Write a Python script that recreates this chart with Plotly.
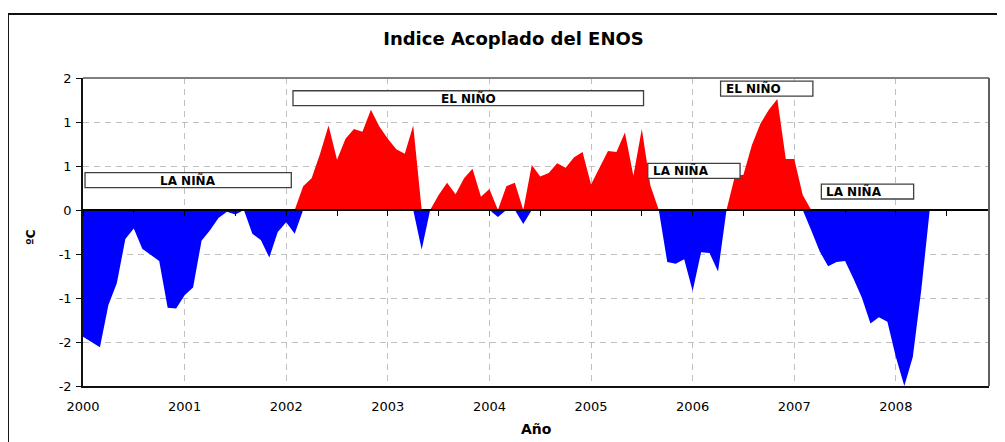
import plotly.graph_objects as go

# ---------------- data (monthly, Jan 2000 onwards) ----------------
enos_index = [
    -1.44, -1.50, -1.56, -1.08, -0.83, -0.33, -0.21, -0.44, -0.51, -0.58, -1.11, -1.12,   # 2000
    -0.97, -0.88, -0.35, -0.23, -0.09, -0.02, -0.05, 0.00, -0.27, -0.34, -0.54, -0.25,    # 2001
    -0.14, -0.27, 0.27, 0.36, 0.64, 0.96, 0.57, 0.81, 0.92, 0.89, 1.14, 0.95,             # 2002
    0.81, 0.69, 0.64, 0.96, -0.45, 0.00, 0.17, 0.31, 0.18, 0.36, 0.47, 0.15,              # 2003
    0.24, -0.08, 0.27, 0.31, -0.16, 0.51, 0.38, 0.42, 0.53, 0.48, 0.60, 0.66,             # 2004
    0.29, 0.48, 0.67, 0.66, 0.88, 0.39, 0.92, 0.28, 0.00, -0.59, -0.61, -0.56,            # 2005
    -0.92, -0.48, -0.49, -0.70, 0.00, 0.39, 0.40, 0.74, 0.98, 1.14, 1.26, 0.58,           # 2006
    0.58, 0.17, -0.23, -0.47, -0.64, -0.59, -0.58, -0.78, -1.00, -1.29, -1.22, -1.27,     # 2007
    -1.67, -2.00, -1.67, -0.91, 0.00,                                                     # 2008
]
year_labels = ["2000", "2001", "2002", "2003", "2004", "2005", "2006", "2007", "2008"]
y_tickvals = [-2, -1.5, -1, -0.5, 0, 0.5, 1, 1.5]
y_ticktext = ["-2", "-2", "-1", "-1", "0", "1", "1", "2"]

phase_labels = ["LA NIÑA", "EL NIÑO", "LA NIÑA", "EL NIÑO", "LA NIÑA"]
phase_start = [0.24, 24.8, 66.7, 75.3, 87.2]
phase_end = [24.6, 66.2, 77.6, 86.2, 98.1]
phase_level = [0.34, 1.27, 0.445, 1.38, 0.21]
phase_align = ["center", "center", "left", "left", "left"]

# ---------------- derived ----------------
months = list(range(len(enos_index)))
warm = [v if v > 0 else 0 for v in enos_index]
cold = [v if v < 0 else 0 for v in enos_index]
n_cats = 107
year_pos = [12 * i for i in range(len(year_labels))]

FONT = "DejaVu Sans"

fig = go.Figure()
fig.add_trace(go.Scatter(x=months, y=cold, mode="lines", fill="tozeroy",
                         fillcolor="#0000FF", line=dict(width=0, color="#0000FF"),
                         hoverinfo="skip", showlegend=False))
fig.add_trace(go.Scatter(x=months, y=warm, mode="lines", fill="tozeroy",
                         fillcolor="#FF0000", line=dict(width=0, color="#FF0000"),
                         hoverinfo="skip", showlegend=False))
# helper trace for the zero-crossing category axis
fig.add_trace(go.Scatter(x=[0, n_cats], y=[0, 0], xaxis="x2", mode="lines",
                         line=dict(width=0), hoverinfo="skip", showlegend=False))

shapes = []
annotations = []
half_h = 0.085
for lab, x0, x1, yl, al in zip(phase_labels, phase_start, phase_end, phase_level, phase_align):
    shapes.append(dict(type="rect", xref="x", yref="y", x0=x0, x1=x1,
                       y0=yl - half_h, y1=yl + half_h, fillcolor="white",
                       line=dict(color="#404040", width=1.3), layer="above"))
    if al == "center":
        annotations.append(dict(text=lab, x=(x0 + x1) / 2, y=yl, xref="x", yref="y",
                                xanchor="center", yanchor="middle", showarrow=False,
                                font=dict(family=FONT, size=12, color="black", weight="bold")))
    else:
        annotations.append(dict(text=lab, x=x0, y=yl, xref="x", yref="y", xshift=3,
                                xanchor="left", yanchor="middle", showarrow=False,
                                font=dict(family=FONT, size=12, color="black", weight="bold")))

# plot frame (top/right), gray
shapes.append(dict(type="line", xref="paper", yref="paper", x0=0, x1=1, y0=1, y1=1,
                   line=dict(color="#7f7f7f", width=2), layer="above"))
shapes.append(dict(type="line", xref="paper", yref="paper", x0=1, x1=1, y0=0, y1=1,
                   line=dict(color="#606060", width=2), layer="above"))
# outer chart border (top/left)
shapes.append(dict(type="line", xref="paper", yref="paper", x0=-0.0828, x1=1.03,
                   y0=1.2078, y1=1.2078, line=dict(color="#111111", width=2)))
shapes.append(dict(type="line", xref="paper", yref="paper", x0=-0.0828, x1=-0.0828,
                   y0=-0.25, y1=1.2078, line=dict(color="#111111", width=2)))

annotations.append(dict(text="ºC", x=-0.0574, y=0.484, xref="paper", yref="paper",
                        textangle=-90, showarrow=False, xanchor="center", yanchor="middle",
                        font=dict(family=FONT, size=12, color="black", weight="bold")))
annotations.append(dict(text="Año", x=0.5, y=-0.14, xref="paper", yref="paper",
                        showarrow=False, xanchor="center", yanchor="middle",
                        font=dict(family=FONT, size=14, color="black", weight="bold")))

# the page body adds an 8px offset; size the figure so the plot lands in place
fig.update_layout(
    width=997, height=434,
    margin=dict(l=75, r=16, t=70, b=56),
    paper_bgcolor="white", plot_bgcolor="white",
    title=dict(text="Indice Acoplado del ENOS", x=0.507, xanchor="center",
               y=0.9286, yanchor="middle", yref="container",
               font=dict(family=FONT, size=18, color="black", weight="bold")),
    xaxis=dict(range=[0, n_cats], tickvals=year_pos, ticktext=year_labels,
               showgrid=True, gridcolor="#c0c0c0", gridwidth=1, griddash="6px,5px",
               ticks="", showline=True, linecolor="#111111", linewidth=1.5,
               zeroline=False, ticklabelstandoff=8,
               tickfont=dict(family=FONT, size=13, color="black")),
    xaxis2=dict(range=[0, n_cats], overlaying="x", anchor="free", position=2 / 3.5,
                showgrid=False, zeroline=False, showticklabels=False,
                showline=True, linecolor="black", linewidth=1.5,
                ticks="outside", tickmode="linear", tick0=0, dtick=6,
                ticklen=5, tickcolor="black", tickwidth=1.2),
    yaxis=dict(range=[-2, 1.5], tickvals=y_tickvals, ticktext=y_ticktext,
               showgrid=True, gridcolor="#c0c0c0", gridwidth=1, griddash="6px,5px",
               zeroline=False, showline=True, linecolor="#111111", linewidth=1.5,
               ticks="outside", ticklen=5, tickcolor="#111111", ticklabelstandoff=2,
               tickfont=dict(family=FONT, size=13, color="black")),
    shapes=shapes,
    annotations=annotations,
    showlegend=False,
)

fig.write_html("out.html")
